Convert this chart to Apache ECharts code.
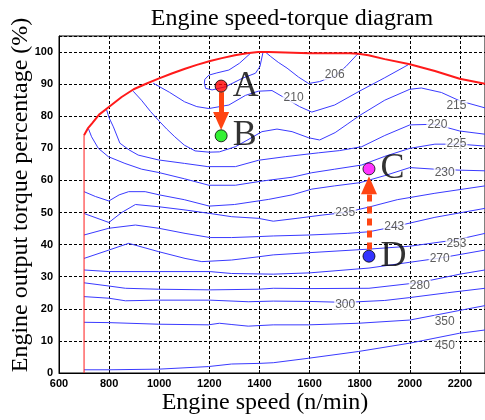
<!DOCTYPE html>
<html>
<head>
<meta charset="utf-8">
<script src="https://cdn.jsdelivr.net/npm/echarts@6/dist/echarts.min.js"></script>
<style>
  html, body { margin: 0; padding: 0; background: #fff; }
  #chart { width: 485px; height: 420px; }
</style>
</head>
<body>
<div id="chart"></div>
<script>
// full-load envelope (speed n/min, torque %)
const envSpeed = [700, 715, 732, 760, 799, 850, 898, 950, 997, 1050, 1103, 1150, 1203, 1250, 1302, 1350, 1395, 1437, 1600, 1760, 1795, 1835, 1900, 2000, 2100, 2199, 2300]
const envTorque = [74.1, 76.2, 77.8, 80.5, 82.9, 86, 88.4, 90.2, 91.7, 93.3, 94.8, 96, 97.2, 98.1, 99.0, 99.6, 100, 100, 99.6, 99.6, 99.5, 99.0, 97.8, 96.2, 94.1, 91.7, 90.1]
const idleSpeed = [700, 700]
const idleTorque = [0, 74.1]

// BSFC contour lines, [speed, torque] pairs
const c206 = [[1425, 99.9], [1445, 98.6], [1475, 96.8], [1510, 95], [1556, 92.2], [1596, 90.2], [1640, 90.8], [1700, 92.5], [1745, 95.5], [1787, 99], [1798, 99.6]]
const c206b = [[1364, 99.6], [1320, 96.5], [1278, 94.4], [1230, 93.5], [1198, 92.8], [1182, 91.5], [1180, 90.3], [1185, 88.7], [1211, 88.2], [1265, 89.2], [1331, 91.8], [1384, 93.4], [1402, 95.5], [1414, 99.9]]
const c210 = [[976, 90.3], [1040, 87.5], [1101, 84.5], [1150, 83], [1198, 82.4], [1278, 83.5], [1344, 86.5], [1395, 87.8], [1450, 88], [1503, 85.6], [1560, 83], [1609, 81.3], [1700, 83.5], [1801, 87.9], [1900, 92], [1995, 96.1]]
const c215 = [[896, 87.8], [929, 85], [965, 81.5], [996, 78.8], [1030, 76], [1062, 73.6], [1100, 71], [1143, 69.2], [1200, 68.8], [1240, 68.9], [1304, 70.5], [1350, 72.5], [1410, 75.2], [1470, 76], [1530, 75.2], [1596, 73.3], [1640, 72.6], [1702, 74.9], [1750, 77.5], [1801, 80.3], [1900, 85], [2000, 88.4], [2046, 88.8], [2126, 87.4], [2199, 84.8], [2300, 82.6]]
const c220 = [[790, 82], [800, 79.5], [817, 76.7], [843, 71.6], [880, 69.5], [916, 67.9], [996, 66.4], [1101, 65.3], [1194, 64.3], [1304, 64.3], [1397, 66.3], [1503, 67.4], [1636, 68.6], [1720, 69.3], [1808, 70.5], [1900, 74], [2000, 77.3], [2100, 77.5], [2199, 75.4], [2300, 74.4]]
const c225 = [[717, 76.2], [730, 73.6], [757, 70], [797, 67.4], [863, 65.3], [930, 63.5], [996, 62.5], [1101, 60.5], [1198, 58.5], [1304, 58.5], [1410, 59.8], [1530, 61], [1609, 62.4], [1700, 63.5], [1808, 64.8], [1900, 67.5], [2000, 70], [2100, 71.3], [2200, 71.3], [2300, 70.7]]
const c230 = [[700, 56.5], [745, 55], [799, 53.6], [840, 55.5], [878, 56.5], [944, 56.5], [1000, 55.5], [1100, 54], [1200, 52], [1300, 52.5], [1437, 54.1], [1530, 55.5], [1609, 57.3], [1700, 58.3], [1801, 59.3], [1900, 61.5], [2000, 64], [2100, 63.5], [2200, 63.2], [2300, 63]]
const c235 = [[700, 49.7], [799, 46.9], [850, 50], [905, 52.5], [998, 51.8], [1103, 50.8], [1203, 49.7], [1289, 48.7], [1395, 48.2], [1455, 47.3], [1550, 48.2], [1650, 49.2], [1742, 50], [1837, 51.7], [1950, 54], [2100, 56], [2300, 58.3]]
const c243 = [[700, 43], [799, 45.1], [905, 46.1], [998, 45.1], [1103, 43.5], [1203, 42.2], [1289, 42.2], [1395, 42.5], [1455, 42.7], [1600, 43], [1750, 43.5], [1837, 44], [1938, 45.6], [2100, 48.5], [2300, 51.3]]
const c253 = [[700, 35.7], [799, 38.3], [878, 40.4], [998, 37.8], [1103, 35.7], [1170, 34.7], [1289, 35.2], [1395, 36.2], [1455, 36.8], [1600, 37.5], [1837, 38.6], [2000, 39.5], [2186, 41.5], [2300, 43.5]]
const c270 = [[700, 32.1], [799, 31.6], [998, 31.6], [1203, 31.6], [1289, 31], [1455, 30.8], [1600, 31.2], [1837, 32.7], [2000, 34.5], [2119, 35.8], [2300, 38.3]]
const c280 = [[700, 28.1], [799, 27.1], [865, 26.4], [998, 26.1], [1203, 25.9], [1395, 26.1], [1455, 26.4], [1600, 26.3], [1837, 26.4], [2040, 28.2], [2200, 30.8], [2300, 32.1]]
const c300 = [[700, 23.8], [799, 23.3], [865, 22.5], [998, 22.7], [1203, 22.7], [1355, 22.2], [1455, 22.4], [1600, 22.3], [1742, 22], [1900, 22.6], [2000, 23.5], [2150, 25], [2300, 26.4]]
const c350 = [[700, 15.8], [799, 15.7], [998, 15.2], [1196, 15], [1240, 15.5], [1290, 15.1], [1355, 14.6], [1455, 15], [1596, 15], [1795, 15.5], [2000, 16.5], [2100, 18], [2199, 19.5], [2300, 21]]
const c450 = [[700, 1], [800, 1], [998, 1.2], [1196, 2], [1289, 2.8], [1402, 3], [1455, 3.2], [1596, 4.6], [1795, 6.7], [2000, 9.3], [2199, 12.4], [2300, 13.4]]

const contours = [c206, c206b, c210, c215, c220, c225, c230, c235, c243, c253, c270, c280, c300, c350, c450]

// contour labels
const labelText = ['206', '210', '215', '220', '225', '230', '235', '243', '253', '270', '280', '300', '350', '450']
const labelSpeed = [1700, 1536, 2186, 2110, 2186, 2139, 1742, 1938, 2186, 2119, 2040, 1742, 2139, 2140]
const labelTorque = [93, 85.8, 83.2, 77.3, 71.6, 62.4, 49.9, 45.6, 40.4, 35.7, 27.1, 21.3, 16, 8.6]

// operating points
const pointNames = ['A', 'B', 'C', 'D']
const pointSpeed = [1247, 1247, 1837, 1837]
const pointTorque = [89.4, 73.9, 63.6, 36.4]
const pointColors = ['#ff0000', '#00ee00', '#ff00ff', '#0000ff']

const chart = echarts.init(document.getElementById('chart'))

const serif = 'Liberation Serif'
const arrowColor = '#ff4513'

const series = []

contours.forEach(c => {
  series.push({
    type: 'line',
    data: c,
    showSymbol: false,
    lineStyle: { color: '#3a3aff', width: 1 },
    z: 2
  })
})

series.push({
  type: 'line',
  data: envSpeed.map((s, i) => [s, envTorque[i]]),
  showSymbol: false,
  lineStyle: { color: '#ff1a1a', width: 2 },
  z: 3
})
series.push({
  type: 'line',
  data: idleSpeed.map((s, i) => [s, idleTorque[i]]),
  showSymbol: false,
  lineStyle: { color: '#ff1a1a', width: 1 },
  z: 3
})

series.push({
  type: 'scatter',
  data: labelText.map((t, i) => [labelSpeed[i], labelTorque[i], t]),
  symbolSize: 0,
  label: {
    show: true,
    position: 'inside',
    formatter: p => p.value[2],
    fontFamily: 'Liberation Sans',
    fontSize: 12,
    color: '#333',
    backgroundColor: '#fff',
    padding: [0, 1]
  },
  z: 4
})

// arrows A->B and D->C
series.push({
  type: 'line',
  data: [],
  markLine: {
    silent: true,
    animation: false,
    label: { show: false },
    symbol: ['none', 'triangle'],
    symbolSize: [16, 18],
    data: [
      [{ coord: [1247, 87.5], lineStyle: { color: arrowColor, width: 5, type: 'solid' } }, { coord: [1247, 78.5] }],
      [{ coord: [1837, 38.5], lineStyle: { color: arrowColor, width: 5, type: [7, 5] } }, { coord: [1837, 58.5] }]
    ]
  },
  z: 5
})

series.push({
  type: 'scatter',
  data: pointNames.map((n, i) => ({
    value: [pointSpeed[i], pointTorque[i]],
    name: n,
    itemStyle: { color: pointColors[i] }
  })),
  symbolSize: 12,
  itemStyle: { borderColor: '#000', borderWidth: 1 },
  label: {
    show: true,
    position: 'right',
    formatter: '{b}',
    distance: 5,
    fontFamily: serif,
    fontSize: 36,
    color: '#000'
  },
  z: 6
})

const option = {
  animation: false,
  title: {
    text: 'Engine speed-torque diagram',
    left: 287,
    top: 2,
    textAlign: 'center',
    textStyle: { fontFamily: serif, fontSize: 24, fontWeight: 'normal', color: '#000' }
  },
  graphic: [
    {
      type: 'text',
      x: 21,
      y: 195,
      rotation: Math.PI / 2,
      style: {
        text: 'Engine output torque percentage (%)',
        font: '24px "Liberation Serif"',
        fill: '#000',
        textAlign: 'center',
        textVerticalAlign: 'middle'
      }
    },
    {
      type: 'text',
      x: 265,
      y: 403,
      style: {
        text: 'Engine speed (n/min)',
        font: '24px "Liberation Serif"',
        fill: '#000',
        textAlign: 'center',
        textVerticalAlign: 'middle'
      }
    }
  ],
  grid: { left: 59, right: -2, top: 36, bottom: 47, show: true, borderColor: '#000', borderWidth: 1 },
  xAxis: {
    type: 'value',
    min: 600,
    max: 2300,
    interval: 200,
    axisLine: { lineStyle: { color: '#000' } },
    axisTick: { inside: true, length: 3, lineStyle: { color: '#000' } },
    axisLabel: { fontFamily: 'Liberation Sans', fontWeight: 'bold', fontSize: 11, color: '#000', margin: 5, showMaxLabel: false, formatter: v => String(v) },
    splitLine: { show: true, lineStyle: { color: '#000', type: [3, 2], width: 1 } }
  },
  yAxis: {
    type: 'value',
    min: 0,
    max: 105,
    interval: 10,
    axisLine: { show: true, lineStyle: { color: '#000' } },
    axisTick: { show: true, inside: true, length: 3, lineStyle: { color: '#000' } },
    axisLabel: { fontFamily: 'Liberation Sans', fontWeight: 'bold', fontSize: 11, color: '#000', margin: 6, showMaxLabel: false, formatter: v => String(v) },
    splitLine: { show: true, lineStyle: { color: '#000', type: [3, 2], width: 1 } }
  },
  series: series
}

chart.setOption(option)
</script>
</body>
</html>
